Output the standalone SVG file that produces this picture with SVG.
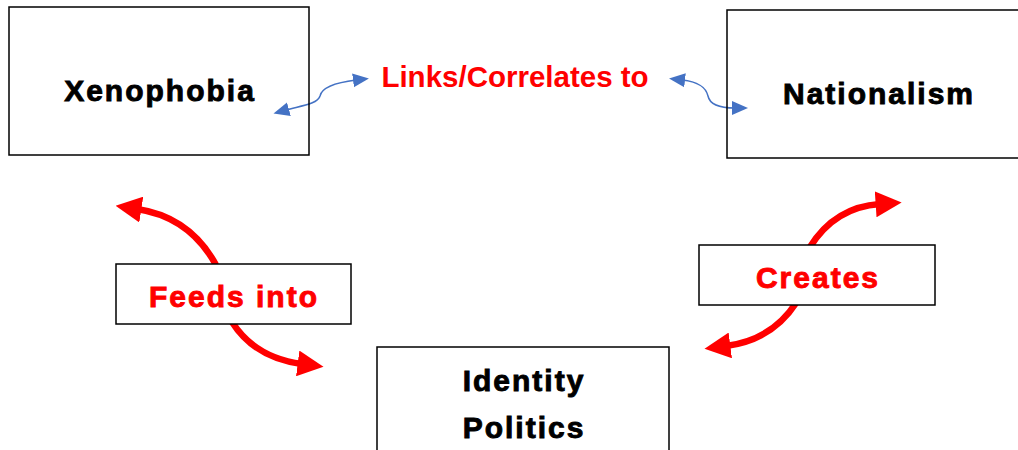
<svg xmlns="http://www.w3.org/2000/svg" width="1018" height="450" viewBox="0 0 1018 450">
<style>
.box{fill:#fff;stroke:#000;stroke-width:1.5}
.open{fill:none}
.t{font-family:"Liberation Sans",Arial,sans-serif;font-weight:bold;font-size:30px;letter-spacing:2px;text-anchor:middle;stroke-width:0.9px}
.lk{font-family:"Liberation Sans",Arial,sans-serif;font-weight:bold;font-size:29.5px;text-anchor:middle}
.red{fill:#ff0000}
.t.red{stroke:#ff0000}
.blk{fill:#000;stroke:#000}
.ra{fill:none;stroke:#ff0000;stroke-width:6.5}
.ba{fill:none;stroke:#4472C4;stroke-width:1.5}
</style>
<defs>
<marker id="rh" markerUnits="userSpaceOnUse" markerWidth="26" markerHeight="26" refX="4" refY="12" orient="auto" viewBox="0 0 24 24">
<path d="M0 0 L24 12 L0 24 Z" fill="#ff0000"/>
</marker>
<marker id="bh" markerUnits="userSpaceOnUse" markerWidth="16" markerHeight="16" refX="3" refY="7" orient="auto-start-reverse" viewBox="0 0 16 14">
<path d="M0 0 L16 7 L0 14 Z" fill="#4472C4"/>
</marker>
</defs>
<g id="connectors">
<path class="ra" d="M216 265 Q190 217 137 209" marker-end="url(#rh)"/>
<path class="ra" d="M232 322 Q255 358 302 364" marker-end="url(#rh)"/>
<path class="ra" d="M810 247 Q835 207 880 204" marker-end="url(#rh)"/>
<path class="ra" d="M796 303 Q772 340 726 346" marker-end="url(#rh)"/>
<path class="ba" d="M286 110 C300 106 318 104 320 96 C322 86 340 82 356 80" marker-start="url(#bh)" marker-end="url(#bh)"/>
<path class="ba" d="M682 80 C700 82 706 88 708 96 C710 106 722 108 735 108" marker-start="url(#bh)" marker-end="url(#bh)"/>
</g>
<g id="xenophobia">
<rect class="box open" x="9" y="7" width="300" height="148"/>
<text class="t blk" x="160" y="101">Xenophobia</text>
</g>
<g id="nationalism">
<rect class="box open" x="727" y="10" width="292" height="148"/>
<text class="t blk" x="879" y="104">Nationalism</text>
</g>
<g id="links">
<text class="lk red" x="515" y="87">Links/Correlates to</text>
</g>
<g id="feeds">
<rect class="box" x="116" y="264" width="235" height="60"/>
<text class="t red" x="234" y="307">Feeds into</text>
</g>
<g id="creates">
<rect class="box" x="699" y="245" width="236" height="60"/>
<text class="t red" x="818" y="288">Creates</text>
</g>
<g id="identity">
<rect class="box" x="377" y="347" width="292" height="110"/>
<text class="t blk" x="524" y="391">Identity</text>
<text class="t blk" x="524" y="438">Politics</text>
</g>
</svg>
